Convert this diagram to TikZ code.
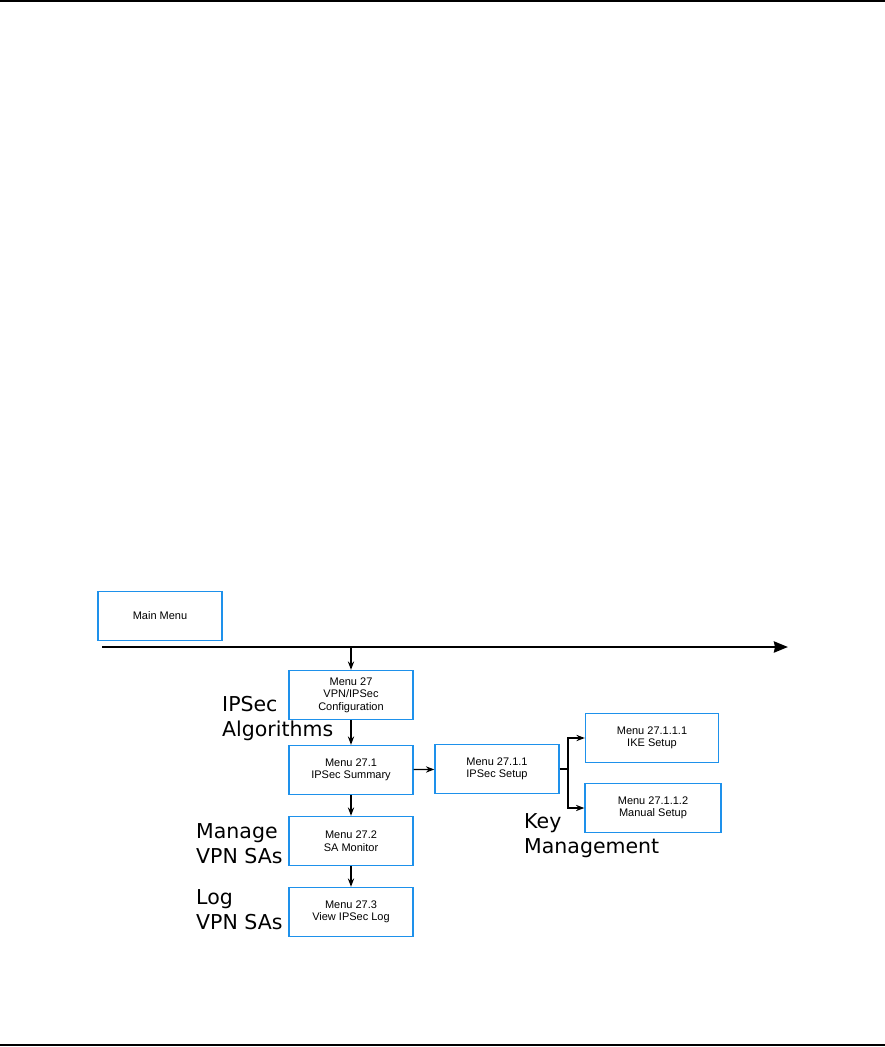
\documentclass[tikz,border=0pt]{standalone}
\usepackage{fontspec}
\setmainfont{Liberation Sans}
\newfontfamily\labelfont{DejaVu Sans}
\usepackage{xcolor}
\usepackage{tikz}
\usetikzlibrary{positioning,arrows.meta}
\definecolor{menublue}{RGB}{30,145,235}

\begin{document}
\begin{tikzpicture}[x=1pt, y=-1pt, >=Stealth,
  menu/.style={draw=menublue, line width=1.4pt, minimum width=124pt,
    minimum height=49pt, align=center, inner sep=1pt,
    font=\fontsize{11}{12.5}\selectfont},
  tag/.style={anchor=west, align=left, inner sep=0pt,
    font=\labelfont\fontsize{20.5}{25}\selectfont},
  link/.style={->, line width=1.2pt}]

\useasboundingbox (0,0) rectangle (885,1047);

% page rules
\draw [line width=1.5pt] (0,1) -- (885,1);
\draw [line width=1.5pt] (0,1045) -- (885,1045);

% menus
\node [menu] (main) at (160,616) {Main Menu};
\node [menu] (m27) at (351,695) {Menu 27\\VPN/IPSec\\Configuration};
\node [menu] (m271) at (351,770) {Menu 27.1\\IPSec Summary};
\node [menu] (m2711) at (497,769) {Menu 27.1.1\\IPSec Setup};
\node [menu, minimum width=133pt] (ike) at (652,738) {Menu 27.1.1.1\\IKE Setup};
\node [menu, minimum width=136pt] (manual) at (653,808) {Menu 27.1.1.2\\Manual Setup};
\node [menu] (m272) at (351,841) {Menu 27.2\\SA Monitor};
\node [menu] (m273) at (351,912) {Menu 27.3\\View IPSec Log};

% main line
\coordinate (line-start) at (102,647);
\coordinate (line-end) at (788,647);
\coordinate (line-drop) at (351,647);
\draw [line width=2.6pt, -{Stealth[length=14pt,width=11pt,inset=1pt]}]
  (line-start) -- (line-end);

% links
\draw [link] (line-drop) -- (m27);
\draw [link] (m27) -- (m271);
\draw [link] (m271) -- (m272);
\draw [link] (m272) -- (m273);
\draw [link] (m271) -- (m2711);
\coordinate (branch) at (568,769);
\draw [line width=1.2pt] (m2711.east) -- (branch);
\draw [link] (branch) |- (ike.west);
\draw [link] (branch) |- (manual.west);

% labels
\node [tag] (algo) at (222,719) {IPSec\\Algorithms};
\node [tag] (manage) at (196,844) {Manage\\VPN SAs};
\node [tag] (log) at (196,910) {Log\\VPN SAs};
\node [tag] (keys) at (524,836) {Key\\Management};
\end{tikzpicture}
\end{document}
